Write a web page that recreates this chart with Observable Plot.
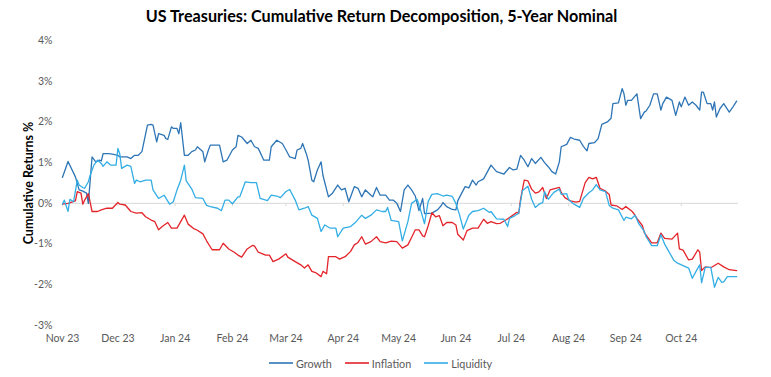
<!DOCTYPE html>
<html>
<head>
<meta charset="utf-8">
<script src="https://cdn.jsdelivr.net/npm/d3@7"></script>
<script src="https://cdn.jsdelivr.net/npm/@observablehq/plot@0.6"></script>
<style>
  html, body { margin: 0; padding: 0; background: #fff; }
  body { width: 771px; height: 377px; overflow: hidden; font-family: Lato, "Open Sans", sans-serif; }
  #title { height: 30px; line-height: 32px; text-align: center; font-weight: bold; font-size: 16.2px; color: #000; padding-right: 8px; }
  #legend { display: flex; justify-content: center; align-items: center; gap: 13px; height: 30px; font-size: 10.8px; color: #595959; padding-right: 10px; }
  #legend .item { display: flex; align-items: center; gap: 3px; }
</style>
</head>
<body>
<div id="title">US Treasuries: Cumulative Return Decomposition, 5-Year Nominal</div>
<div id="chart"></div>
<div id="legend"></div>
<script>
const seriesNames = ["Growth", "Inflation", "Liquidity"];
const seriesColors = ["#2E75B6", "#E3242B", "#33AEE5"];
const yTicks = [-3, -2, -1, 0, 1, 2, 3, 4];
const monthTicks = ["2023-11-01","2023-12-01","2024-01-01","2024-02-01","2024-03-01","2024-04-01","2024-05-01","2024-06-01","2024-07-01","2024-08-01","2024-09-01","2024-10-01"];
const xDomain = ["2023-11-01", "2024-11-01"];

const growth = [
["2023-11-01",0.64],["2023-11-04",1.03],["2023-11-08",0.65],["2023-11-10",0.33],["2023-11-12",0.30],["2023-11-14",0.25],["2023-11-15",0.0],["2023-11-17",1.14],["2023-11-19",1.02],["2023-11-21",1.06],["2023-11-22",1.04],["2023-11-23",1.22],["2023-11-26",1.22],["2023-11-28",1.21],
["2023-12-01",1.18],["2023-12-02",1.14],["2023-12-06",1.14],["2023-12-08",1.10],["2023-12-10",1.18],["2023-12-12",1.18],["2023-12-14",1.27],["2023-12-17",1.92],["2023-12-19",1.94],["2023-12-20",1.92],["2023-12-22",1.51],["2023-12-23",1.71],["2023-12-26",1.67],["2023-12-27",1.59],["2023-12-28",1.57],["2023-12-30",1.88],["2023-12-31",1.84],
["2024-01-02",1.84],["2024-01-03",1.71],["2024-01-04",1.98],["2024-01-06",1.18],["2024-01-08",1.18],["2024-01-10",1.27],["2024-01-12",1.31],["2024-01-13",1.39],["2024-01-15",1.31],["2024-01-16",1.27],["2024-01-17",1.02],["2024-01-19",1.31],["2024-01-20",1.43],["2024-01-25",1.43],["2024-01-27",1.02],["2024-01-29",1.06],
["2024-02-01",1.31],["2024-02-03",1.39],["2024-02-04",1.67],["2024-02-06",1.63],["2024-02-09",1.47],["2024-02-11",1.55],["2024-02-13",1.39],["2024-02-15",1.35],["2024-02-18",1.06],["2024-02-21",1.06],["2024-02-22",1.39],["2024-02-25",1.55],["2024-02-28",1.47],
["2024-03-01",1.31],["2024-03-03",1.14],["2024-03-06",1.10],["2024-03-07",1.31],["2024-03-09",1.35],["2024-03-10",1.47],["2024-03-12",1.22],["2024-03-13",1.06],["2024-03-15",0.57],["2024-03-16",0.53],["2024-03-18",0.82],["2024-03-20",1.02],["2024-03-21",0.69],["2024-03-24",0.16],["2024-03-26",0.24],["2024-03-29",0.45],["2024-03-31",0.33],
["2024-04-02",0.37],["2024-04-04",0.04],["2024-04-07",0.41],["2024-04-09",0.37],["2024-04-11",0.16],["2024-04-13",0.33],["2024-04-16",0.20],["2024-04-17",0.16],["2024-04-19",0.39],["2024-04-21",0.20],["2024-04-24",0.20],["2024-04-26",0.08],["2024-04-28",0.08],["2024-04-30",0.0],
["2024-05-02",-0.20],["2024-05-04",0.33],["2024-05-06",0.45],["2024-05-08",0.33],["2024-05-10",0.18],["2024-05-12",-0.18],["2024-05-14",0.12],["2024-05-15",-0.25],["2024-05-19",-0.24],["2024-05-22",-0.16],["2024-05-24",-0.06],["2024-05-25",0.02],["2024-05-27",-0.08],["2024-05-30",-0.15],
["2024-06-01",-0.16],["2024-06-02",0.06],["2024-06-04",0.24],["2024-06-06",0.41],["2024-06-08",0.38],["2024-06-10",0.57],["2024-06-12",0.45],["2024-06-13",0.53],["2024-06-16",0.60],["2024-06-20",0.94],["2024-06-23",0.78],["2024-06-27",0.72],["2024-06-30",0.88],
["2024-07-02",0.82],["2024-07-04",0.84],["2024-07-06",1.18],["2024-07-08",1.06],["2024-07-10",0.90],["2024-07-12",1.10],["2024-07-14",0.98],["2024-07-17",1.13],["2024-07-19",1.00],["2024-07-21",0.90],["2024-07-23",0.78],["2024-07-25",0.72],["2024-07-27",1.02],["2024-07-28",1.39],["2024-07-31",1.45],
["2024-08-02",1.62],["2024-08-04",1.58],["2024-08-07",1.55],["2024-08-09",1.40],["2024-08-11",1.29],["2024-08-12",1.47],["2024-08-15",1.49],["2024-08-17",1.59],["2024-08-19",1.94],["2024-08-22",2.00],["2024-08-24",2.09],["2024-08-25",2.45],["2024-08-28",2.47],["2024-08-30",2.82],["2024-08-31",2.69],
["2024-09-01",2.41],["2024-09-02",2.53],["2024-09-04",2.53],["2024-09-07",2.69],["2024-09-09",2.08],["2024-09-11",2.24],["2024-09-12",2.27],["2024-09-14",2.41],["2024-09-16",2.69],["2024-09-18",2.69],["2024-09-20",2.29],["2024-09-21",2.45],["2024-09-23",2.61],["2024-09-26",2.53],["2024-09-28",2.16],["2024-09-30",2.49],
["2024-10-01",2.37],["2024-10-03",2.61],["2024-10-05",2.41],["2024-10-07",2.49],["2024-10-09",2.41],["2024-10-11",2.29],["2024-10-12",2.73],["2024-10-13",2.73],["2024-10-15",2.45],["2024-10-17",2.45],["2024-10-18",2.29],["2024-10-19",2.49],["2024-10-20",2.12],["2024-10-22",2.33],["2024-10-24",2.45],["2024-10-27",2.24],["2024-10-29",2.37],["2024-10-31",2.51]
];

const inflation = [
["2023-11-01",-0.02],["2023-11-04",0.0],["2023-11-06",0.03],["2023-11-08",0.06],["2023-11-09",0.29],["2023-11-11",0.25],["2023-11-12",-0.02],["2023-11-13",0.08],["2023-11-15",0.24],["2023-11-17",-0.20],["2023-11-20",-0.20],["2023-11-22",-0.16],["2023-11-25",-0.12],["2023-11-28",-0.12],
["2023-12-01",0.02],["2023-12-02",-0.02],["2023-12-05",-0.04],["2023-12-08",-0.20],["2023-12-11",-0.24],["2023-12-14",-0.23],["2023-12-16",-0.33],["2023-12-19",-0.41],["2023-12-21",-0.45],["2023-12-23",-0.65],["2023-12-25",-0.57],["2023-12-28",-0.47],["2023-12-30",-0.61],
["2024-01-02",-0.61],["2024-01-06",-0.29],["2024-01-08",-0.51],["2024-01-11",-0.62],["2024-01-13",-0.66],["2024-01-16",-0.75],["2024-01-18",-0.92],["2024-01-21",-1.14],["2024-01-25",-1.14],["2024-01-27",-0.98],["2024-01-30",-1.12],
["2024-02-02",-1.20],["2024-02-04",-1.27],["2024-02-06",-1.32],["2024-02-09",-1.12],["2024-02-12",-1.03],["2024-02-13",-1.05],["2024-02-15",-1.20],["2024-02-19",-1.27],["2024-02-21",-1.27],["2024-02-23",-1.43],["2024-02-26",-1.37],
["2024-03-01",-1.24],["2024-03-02",-1.32],["2024-03-06",-1.43],["2024-03-09",-1.51],["2024-03-11",-1.59],["2024-03-13",-1.51],["2024-03-15",-1.67],["2024-03-17",-1.70],["2024-03-20",-1.80],["2024-03-21",-1.67],["2024-03-23",-1.73],["2024-03-24",-1.31],["2024-03-28",-1.31],["2024-03-30",-1.37],
["2024-04-02",-1.31],["2024-04-05",-1.18],["2024-04-07",-1.02],["2024-04-09",-0.96],["2024-04-11",-0.82],["2024-04-13",-1.00],["2024-04-16",-0.94],["2024-04-19",-0.82],["2024-04-21",-0.94],["2024-04-24",-0.97],["2024-04-27",-0.93],["2024-04-30",-0.94],
["2024-05-03",-1.10],["2024-05-06",-1.02],["2024-05-08",-0.84],["2024-05-10",-0.65],["2024-05-12",-0.65],["2024-05-14",-0.80],["2024-05-15",-0.82],["2024-05-17",-0.55],["2024-05-19",-0.23],["2024-05-21",-0.33],["2024-05-23",-0.30],["2024-05-25",-0.55],["2024-05-27",-0.47],["2024-05-30",-0.47],
["2024-06-01",-0.53],["2024-06-02",-0.76],["2024-06-05",-0.90],["2024-06-07",-0.67],["2024-06-10",-0.61],["2024-06-13",-0.61],["2024-06-16",-0.39],["2024-06-18",-0.49],["2024-06-20",-0.45],["2024-06-23",-0.50],["2024-06-25",-0.49],["2024-06-28",-0.41],
["2024-07-01",-0.32],["2024-07-04",-0.22],["2024-07-05",-0.25],["2024-07-06",0.10],["2024-07-08",0.57],["2024-07-10",0.55],["2024-07-12",0.35],["2024-07-14",0.25],["2024-07-16",0.28],["2024-07-18",0.39],["2024-07-20",0.12],["2024-07-22",0.33],["2024-07-25",0.37],["2024-07-27",0.39],["2024-07-28",0.27],["2024-07-30",0.14],
["2024-08-02",0.06],["2024-08-05",0.03],["2024-08-07",0.05],["2024-08-10",0.51],["2024-08-12",0.64],["2024-08-14",0.60],["2024-08-16",0.64],["2024-08-18",0.37],["2024-08-21",0.30],["2024-08-23",0.22],["2024-08-24",-0.04],["2024-08-27",-0.06],["2024-08-30",-0.15],
["2024-09-01",-0.08],["2024-09-04",-0.18],["2024-09-05",-0.23],["2024-09-07",-0.37],["2024-09-10",-0.55],["2024-09-11",-0.72],["2024-09-15",-0.97],["2024-09-18",-0.97],["2024-09-20",-0.73],["2024-09-22",-0.86],["2024-09-26",-0.88],["2024-09-29",-0.73],["2024-09-30",-1.12],
["2024-10-02",-1.15],["2024-10-05",-1.39],["2024-10-07",-1.37],["2024-10-10",-1.14],["2024-10-11",-1.20],["2024-10-12",-1.65],["2024-10-14",-1.56],["2024-10-17",-1.58],["2024-10-21",-1.47],["2024-10-24",-1.56],["2024-10-27",-1.63],["2024-10-31",-1.65]
];

const liquidity = [
["2023-11-01",-0.02],["2023-11-02",0.08],["2023-11-04",-0.20],["2023-11-05",0.10],["2023-11-07",0.04],["2023-11-09",0.57],["2023-11-10",0.45],["2023-11-12",0.39],["2023-11-13",0.37],["2023-11-15",0.53],["2023-11-16",0.69],["2023-11-18",0.94],["2023-11-20",1.06],["2023-11-22",0.98],["2023-11-23",0.91],["2023-11-25",1.02],["2023-11-27",0.94],["2023-11-30",0.94],
["2023-12-01",1.35],["2023-12-02",1.22],["2023-12-03",0.86],["2023-12-06",0.94],["2023-12-08",0.91],["2023-12-10",0.49],["2023-12-11",0.57],["2023-12-13",0.53],["2023-12-16",0.57],["2023-12-19",0.57],["2023-12-20",0.33],["2023-12-23",0.12],["2023-12-26",0.20],["2023-12-29",-0.02],["2023-12-31",0.04],
["2024-01-02",0.33],["2024-01-04",0.57],["2024-01-06",0.94],["2024-01-07",0.55],["2024-01-10",0.35],["2024-01-12",0.14],["2024-01-16",0.12],["2024-01-18",-0.05],["2024-01-20",-0.08],["2024-01-24",-0.12],["2024-01-26",-0.18],["2024-01-28",0.08],["2024-01-30",0.08],
["2024-02-01",-0.01],["2024-02-04",0.16],["2024-02-05",0.16],["2024-02-08",0.53],["2024-02-11",0.51],["2024-02-14",0.51],["2024-02-16",0.12],["2024-02-20",0.07],["2024-02-22",0.20],["2024-02-25",0.18],["2024-02-27",0.14],
["2024-03-01",0.29],["2024-03-03",0.34],["2024-03-06",0.08],["2024-03-08",-0.16],["2024-03-11",-0.12],["2024-03-13",-0.08],["2024-03-15",-0.29],["2024-03-18",-0.37],["2024-03-20",-0.69],["2024-03-22",-0.53],["2024-03-25",-0.61],["2024-03-28",-0.61],["2024-03-29",-0.82],
["2024-04-01",-0.61],["2024-04-05",-0.57],["2024-04-08",-0.45],["2024-04-11",-0.29],["2024-04-13",-0.37],["2024-04-16",-0.29],["2024-04-19",-0.16],["2024-04-22",-0.20],["2024-04-24",-0.20],["2024-04-25",-0.10],["2024-04-27",-0.42],
["2024-05-01",-0.45],["2024-05-03",-0.92],["2024-05-06",-0.45],["2024-05-08",0.0],["2024-05-11",0.10],["2024-05-13",-0.18],["2024-05-15",-0.50],["2024-05-17",0.05],["2024-05-19",0.22],["2024-05-22",0.24],["2024-05-25",0.18],["2024-05-27",0.20],["2024-05-30",0.17],
["2024-06-01",0.0],["2024-06-03",-0.29],["2024-06-05",-0.63],["2024-06-08",-0.29],["2024-06-10",-0.20],["2024-06-13",-0.18],["2024-06-16",-0.12],["2024-06-19",-0.22],["2024-06-20",-0.20],["2024-06-23",-0.38],["2024-06-27",-0.39],["2024-06-29",-0.57],["2024-06-30",-0.37],
["2024-07-03",-0.30],["2024-07-05",-0.24],["2024-07-07",0.31],["2024-07-10",0.42],["2024-07-12",0.10],["2024-07-14",-0.10],["2024-07-16",-0.02],["2024-07-18",0.02],["2024-07-19",0.29],["2024-07-21",0.10],["2024-07-24",0.27],["2024-07-27",0.35],["2024-07-28",0.22],["2024-07-31",0.24],
["2024-08-01",0.09],["2024-08-04",-0.02],["2024-08-07",-0.10],["2024-08-09",0.12],["2024-08-12",0.26],["2024-08-14",0.33],["2024-08-16",0.46],["2024-08-18",0.33],["2024-08-21",0.29],["2024-08-23",-0.05],["2024-08-25",-0.12],["2024-08-28",-0.16],["2024-08-31",-0.42],
["2024-09-01",-0.34],["2024-09-04",-0.38],["2024-09-06",-0.29],["2024-09-08",-0.50],["2024-09-11",-0.69],["2024-09-12",-0.82],["2024-09-15",-1.04],["2024-09-18",-1.04],["2024-09-20",-0.77],["2024-09-22",-1.00],["2024-09-24",-1.16],["2024-09-27",-1.40],["2024-09-29",-1.47],
["2024-10-02",-1.53],["2024-10-05",-1.59],["2024-10-07",-1.84],["2024-10-09",-1.67],["2024-10-11",-1.51],["2024-10-12",-1.95],["2024-10-14",-1.57],["2024-10-17",-1.57],["2024-10-19",-2.06],["2024-10-21",-1.82],["2024-10-23",-1.94],["2024-10-24",-1.93],["2024-10-26",-1.80],["2024-10-31",-1.80]
];

const parse = d3.utcParse("%Y-%m-%d");
const seriesData = [growth, inflation, liquidity];
const rows = seriesData.flatMap((s, i) => s.map(([d, v]) => ({series: seriesNames[i], date: parse(d), value: v})));
const ticks = monthTicks.map(parse);

const chart = Plot.plot({
  width: 771,
  height: 318,
  marginLeft: 62,
  marginRight: 33,
  marginTop: 10,
  marginBottom: 23,
  style: {fontFamily: "Lato, 'Open Sans', sans-serif", fontSize: "10.5px", color: "#595959", background: "#fff"},
  x: {type: "utc", domain: xDomain.map(parse)},
  y: {domain: [yTicks[0], yTicks[yTicks.length - 1]]},
  color: {domain: seriesNames, range: seriesColors},
  marks: [
    Plot.ruleY([0], {stroke: "#d9d9d9", strokeWidth: 1}),
    Plot.ruleX(ticks, {x: d => d, y1: 0, y2: -0.08, stroke: "#d9d9d9"}),
    Plot.axisY({ticks: yTicks, tickSize: 0, tickPadding: 10, tickFormat: d => d + "%", label: null, fill: "#595959"}),
    Plot.axisX({ticks: ticks, tickSize: 0, tickPadding: 9, tickFormat: d3.utcFormat("%b %y"), label: null, fill: "#595959"}),
    Plot.text(["Cumulative Returns %"], {frameAnchor: "left", text: d => d, rotate: -90, dx: -34, fontWeight: "bold", fill: "#000", fontSize: 12.5, textAnchor: "middle", lineAnchor: "middle"}),
    Plot.line(rows, {x: "date", y: "value", z: "series", stroke: "series", strokeWidth: 1.3, curve: "linear"})
  ]
});
document.getElementById("chart").appendChild(chart);

const legend = document.getElementById("legend");
seriesNames.forEach((name, i) => {
  const item = document.createElement("div");
  item.className = "item";
  item.innerHTML = `<svg width="24" height="6"><line x1="0" y1="3" x2="24" y2="3" stroke="${seriesColors[i]}" stroke-width="1.6"/></svg><span>${name}</span>`;
  legend.appendChild(item);
});
</script>
</body>
</html>
